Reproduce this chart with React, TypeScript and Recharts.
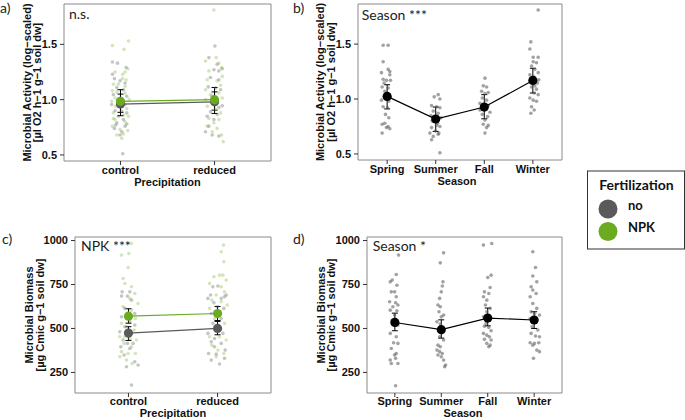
import React from 'react';
import { ScatterChart, Scatter, XAxis, YAxis, ReferenceArea, ErrorBar } from 'recharts';

// ---------- categories & ticks ----------
const precipitation = ['control', 'reduced'];
const seasons = ['Spring', 'Summer', 'Fall', 'Winter'];
const activityTicks = [0.5, 1.0, 1.5];
const biomassTicks = [250, 500, 750, 1000];

// ---------- panel a: activity by precipitation, raw points [jitter, value] ----------
const actControlNo = [[-0.085,1.34],[-0.032,1.33],[0.06,1.29],[-0.085,1.23],[-0.064,1.19],[-0.004,1.17],[0.049,1.15],[-0.039,1.11],[0.032,1.09],[-0.075,1.045],[0.067,1.03],[-0.022,0.97],[-0.093,0.955],[0.049,0.955],[-0.057,0.9],[0.014,0.894],[0.067,0.88],[-0.022,0.85],[0.032,0.82],[-0.039,0.79],[0.067,0.78],[-0.064,0.74],[0.014,0.71],[0.049,0.76],[-0.004,0.68],[0.024,0.51],[-0.05,0.77]];
const actControlNPK = [[0.085,1.53],[-0.085,1.49],[0.038,1.455],[-0.057,1.25],[0.049,1.25],[0.024,1.23],[0.078,1.28],[0.021,1.19],[0.06,1.18],[-0.075,1.14],[-0.022,1.14],[0.049,1.12],[-0.085,1.08],[-0.039,1.07],[0.049,1.06],[-0.057,1.015],[0.092,1.0],[-0.093,0.985],[-0.05,0.94],[0.067,0.92],[-0.075,0.88],[0.032,0.86],[0.085,0.85],[-0.057,0.82],[0.049,0.8],[-0.085,0.76],[-0.004,0.73],[0.078,0.72],[-0.039,0.68],[0.032,0.69],[0.014,0.65],[-0.075,0.83]];
const actReducedNo = [[0.004,1.485],[-0.06,1.38],[0.028,1.32],[-0.007,1.27],[0.046,1.26],[0.082,1.28],[-0.043,1.2],[0.046,1.18],[-0.067,1.115],[0.011,1.105],[0.064,1.09],[-0.025,1.03],[0.082,0.945],[0.046,0.93],[-0.043,0.89],[0.028,0.865],[-0.078,0.85],[-0.007,0.82],[-0.096,0.71],[-0.025,0.68],[0.046,0.67],[-0.06,0.76],[0.011,1.0]];
const actReducedNPK = [[-0.007,1.81],[-0.096,1.35],[0.018,1.38],[0.046,1.33],[0.074,1.29],[-0.06,1.26],[0.082,1.21],[-0.078,1.18],[0.028,1.17],[0.064,1.13],[-0.096,1.09],[0.046,1.06],[-0.043,1.045],[0.082,1.015],[-0.078,0.94],[0.011,0.91],[0.064,0.88],[-0.06,0.83],[0.046,0.82],[-0.007,0.79],[-0.078,0.76],[0.028,0.74],[0.074,0.68],[0.092,0.62],[-0.025,0.71],[-0.096,1.0]];
const actMeanNo = [0.96, 0.98];
const actLowNo = [0.855, 0.875];
const actHighNo = [1.05, 1.07];
const actMeanNPK = [0.985, 1.0];
const actLowNPK = [0.885, 0.905];
const actHighNPK = [1.09, 1.11];

// ---------- panel b: activity by season ----------
const actSpring = [[-0.082,1.49],[0.021,1.49],[-0.082,1.34],[-0.117,1.24],[0.021,1.27],[0.055,1.25],[-0.082,1.18],[-0.014,1.17],[0.069,1.17],[-0.103,1.11],[0.021,1.1],[-0.048,1.07],[0.055,1.02],[-0.117,0.99],[0.034,0.98],[-0.082,0.93],[0.007,0.92],[-0.034,0.86],[0.034,0.83],[-0.103,0.77],[-0.014,0.74],[0.055,0.73],[-0.048,0.78],[-0.103,0.69],[0.021,0.75],[-0.062,1.145],[0.055,1.22],[-0.014,1.01]];
const actSummer = [[0.051,1.04],[-0.031,1.02],[0.086,1.0],[-0.086,0.94],[0.017,0.93],[0.086,0.92],[-0.051,0.89],[0.051,0.87],[-0.099,0.85],[-0.017,0.84],[0.106,0.83],[-0.072,0.8],[0.038,0.78],[0.086,0.75],[-0.086,0.74],[-0.003,0.71],[0.065,0.69],[-0.051,0.66],[-0.086,0.63],[0.051,0.68],[0.086,0.51],[-0.12,0.69],[0.017,0.76]];
const actFall = [[0.014,1.19],[-0.021,1.12],[0.048,1.11],[-0.055,1.07],[0.014,1.05],[0.082,1.06],[-0.041,1.01],[0.048,0.99],[-0.089,0.96],[0.082,0.94],[-0.021,0.92],[0.117,0.88],[-0.041,0.86],[0.069,0.84],[0.014,0.81],[-0.021,0.77],[0.048,0.74],[0.082,0.76],[0.014,0.69],[-0.089,0.9]];
const actWinter = [[0.11,1.81],[-0.041,1.52],[-0.062,1.455],[0.007,1.38],[0.11,1.38],[0.007,1.34],[0.075,1.33],[-0.027,1.3],[0.041,1.27],[0.11,1.24],[-0.062,1.22],[0.027,1.2],[0.096,1.145],[-0.027,1.11],[0.075,1.09],[0.027,1.055],[0.11,1.04],[-0.062,1.01],[0.007,0.99],[0.075,0.98],[-0.027,0.93],[0.027,0.9],[-0.041,0.87],[0.041,1.12],[0.123,1.175]];
const actSeasonMean = [1.024, 0.818, 0.927, 1.169];
const actSeasonLow = [0.91, 0.705, 0.82, 1.055];
const actSeasonHigh = [1.13, 0.927, 1.04, 1.28];

// ---------- panel c: biomass by precipitation ----------
const bioControlNo = [[-0.071,708],[0.015,708],[-0.078,684],[-0.011,684],[0.034,661],[-0.041,614],[0.071,585],[-0.078,566],[0.015,538],[-0.041,510],[0.071,519],[-0.097,481],[0.034,472],[-0.06,434],[-0.011,415],[0.052,415],[-0.086,396],[0.015,386],[-0.049,349],[0.071,311],[0.108,292],[-0.022,282],[0.034,178],[-0.004,453]];
const bioControlNPK = [[0.034,983],[-0.078,917],[0.004,926],[-0.004,847],[-0.06,784],[-0.041,756],[0.034,737],[0.071,699],[0.015,671],[0.108,642],[-0.06,623],[0.034,604],[0.078,557],[-0.078,529],[-0.022,510],[0.064,491],[-0.097,453],[0.015,443],[0.09,434],[-0.049,415],[0.034,396],[-0.078,368],[-0.004,358],[0.078,358],[-0.097,339],[-0.022,320],[0.041,301],[-0.041,453]];
const bioReducedNo = [[-0.053,737],[0.004,741],[-0.078,690],[0.097,690],[0.078,680],[-0.108,671],[0.041,671],[-0.041,646],[-0.004,623],[0.071,614],[-0.071,585],[0.041,557],[-0.053,529],[0.022,500],[-0.108,472],[0.06,472],[-0.034,443],[0.041,415],[-0.071,424],[0.086,377],[-0.101,358],[-0.015,354],[-0.071,320],[0.022,298],[0.078,330],[-0.034,396]];
const bioReducedNPK = [[0.067,974],[0.041,936],[0.071,879],[0.022,803],[0.06,803],[-0.041,794],[0.097,775],[-0.09,756],[0.041,737],[0.078,708],[-0.015,690],[-0.064,661],[0.041,652],[0.108,633],[-0.09,614],[0.022,595],[-0.034,557],[0.078,529],[-0.09,453],[0.022,453],[0.097,434],[-0.064,405],[0.004,377],[0.071,358],[-0.015,339]];
const bioMeanNo = [474, 500];
const bioLowNo = [432, 464];
const bioHighNo = [510, 540];
const bioMeanNPK = [570, 585];
const bioLowNPK = [530, 545];
const bioHighNPK = [612, 625];

// ---------- panel d: biomass by season ----------
const bioSpring = [[0.08,917],[0.03,807],[-0.056,775],[-0.099,765],[0.044,746],[-0.077,708],[-0.006,708],[0.03,680],[-0.113,652],[0.016,646],[0.066,633],[-0.042,623],[-0.099,604],[0.044,601],[-0.006,576],[-0.056,547],[0.066,519],[-0.099,472],[0.03,453],[-0.027,419],[0.066,415],[-0.077,386],[0.03,358],[-0.006,349],[-0.099,320],[-0.077,301],[0.066,301],[0.016,330],[0.016,174]];
const bioSummer = [[0.05,930],[-0.022,873],[0.036,765],[0.022,741],[0,708],[-0.036,671],[-0.072,633],[-0.022,623],[-0.05,595],[0.05,576],[0,566],[-0.093,538],[-0.022,525],[0.036,500],[0.022,481],[-0.036,453],[0.05,434],[-0.072,405],[-0.022,396],[-0.093,377],[-0.036,368],[0.022,358],[-0.072,349],[0,339],[0.05,320],[0.093,292],[0.072,282]];
const bioFall = [[-0.092,974],[0.087,983],[0.073,803],[0.001,790],[0.052,733],[-0.07,708],[0.023,699],[-0.092,680],[-0.02,661],[-0.049,633],[0.052,614],[-0.02,595],[-0.092,566],[0.037,547],[-0.034,529],[-0.07,513],[0.023,506],[0.073,487],[-0.092,472],[-0.02,462],[0.037,453],[-0.07,438],[0.073,434],[-0.02,415],[0.023,396],[0.052,405]];
const bioWinter = [[-0.029,936],[0.029,847],[-0.029,798],[0.057,765],[-0.065,737],[-0.029,718],[0.043,699],[-0.086,680],[-0.029,642],[0.057,614],[-0.065,595],[0.007,585],[0.115,576],[-0.086,557],[0.043,538],[-0.043,510],[0.079,491],[-0.065,472],[0.029,457],[0.115,453],[-0.086,419],[0.007,415],[0.1,419],[-0.029,405],[0.057,377],[0.115,368],[-0.014,330]];
const bioSeasonMean = [534, 493, 559, 548];
const bioSeasonLow = [487, 445, 515, 500];
const bioSeasonHigh = [587, 549, 616, 595];

// ---------- styling ----------
const GREEN = '#6aab1f';
const GREY = '#5a5a5a';
const W = 685;
const H = 420;
const tickStyle = { fill: '#111', fontSize: 11, fontWeight: 700, fontFamily: '"Liberation Sans", Arial, sans-serif' };
const labelFont = '"Liberation Sans", Arial, sans-serif';
const noteFont = 'Lato, "Open Sans", sans-serif';

type Pt = { x: number; y: number; err?: number[] };

const cloud = (idx: number, arr: number[][]): Pt[] => arr.map(([j, v]) => ({ x: idx + j, y: v }));
const meanPts = (m: number[], lo: number[], hi: number[]): Pt[] =>
  m.map((v, i) => ({ x: i + 1, y: v, err: [v - lo[i], hi[i] - v] }));

type Cloud = { data: Pt[]; color: string; opacity: number };
type Mean = { data: Pt[]; color: string };

function Panel(props: {
  plot: [number, number, number, number];
  cats: string[];
  yDomain: [number, number];
  yTicks: number[];
  yFmt: (v: number) => string;
  yWidth: number;
  xHeight: number;
  xTickMargin: number;
  clouds: Cloud[];
  means: Mean[];
}) {
  const { plot, cats, yDomain, yTicks, yFmt, yWidth, xHeight, xTickMargin, clouds, means } = props;
  const [L, T, PW, PH] = plot;
  const margin = { left: L - yWidth, top: T, right: W - L - PW, bottom: H - T - PH - xHeight };
  const xDomain: [number, number] = [0.4, cats.length + 0.6];
  return (
    <div style={{ position: 'absolute', left: 0, top: 0 }}>
      <ScatterChart width={W} height={H} margin={margin}>
        <XAxis
          type="number"
          dataKey="x"
          domain={xDomain}
          ticks={cats.map((_, i) => i + 1)}
          tickFormatter={(v: number) => cats[Math.round(v) - 1]}
          allowDataOverflow
          axisLine={false}
          tickLine={{ stroke: '#333' }}
          tickSize={4}
          tickMargin={xTickMargin}
          height={xHeight}
          tick={tickStyle}
          interval={0}
        />
        <YAxis
          type="number"
          dataKey="y"
          domain={yDomain}
          ticks={yTicks}
          tickFormatter={yFmt}
          allowDataOverflow
          axisLine={false}
          tickLine={{ stroke: '#333' }}
          tickSize={4}
          tickMargin={3}
          width={yWidth}
          tick={tickStyle}
          interval={0}
        />
        <ReferenceArea
          x1={xDomain[0]}
          x2={xDomain[1]}
          y1={yDomain[0]}
          y2={yDomain[1]}
          fill="none"
          fillOpacity={0}
          stroke="#8a8a8a"
          strokeWidth={1}
          ifOverflow="visible"
        />
        {clouds.map((c, i) => (
          <Scatter
            key={'c' + i}
            data={c.data}
            isAnimationActive={false}
            shape={(p: any) => <circle cx={p.cx} cy={p.cy} r={1.8} fill={c.color} fillOpacity={c.opacity} />}
          />
        ))}
        {means.map((m, i) => (
          <Scatter
            key={'m' + i}
            data={m.data}
            isAnimationActive={false}
            line={{ stroke: m.color, strokeWidth: 1.2 }}
            lineType="joint"
            shape={(p: any) => <circle cx={p.cx} cy={p.cy} r={4.6} fill={m.color} />}
          >
            <ErrorBar dataKey="err" direction="y" width={3} stroke="#000" strokeWidth={1} />
          </Scatter>
        ))}
      </ScatterChart>
    </div>
  );
}

const fmt1 = (v: number) => v.toFixed(1);
const fmt0 = (v: number) => String(v);

function YTitle({ x1, x2, cy, l1, l2 }: { x1: number; x2: number; cy: number; l1: string; l2: string }) {
  const st = { fontFamily: labelFont, fontWeight: 700, fontSize: 11, fill: '#111' } as const;
  return (
    <g>
      <text transform={`translate(${x1},${cy}) rotate(-90)`} textAnchor="middle" style={st}>{l1}</text>
      <text transform={`translate(${x2},${cy}) rotate(-90)`} textAnchor="middle" style={st}>{l2}</text>
    </g>
  );
}

export default function App() {
  const xt = { fontFamily: labelFont, fontWeight: 700, fontSize: 11, fill: '#111' } as const;
  const note = { fontFamily: noteFont, fontSize: 14, fill: '#222' } as const;
  return (
    <div style={{ position: 'absolute', left: 0, top: 0, width: W, height: H, background: '#fff', overflow: 'hidden' }}>
      <Panel
        plot={[64, 4, 207, 157]}
        cats={precipitation}
        yDomain={[0.445, 1.865]}
        yTicks={activityTicks}
        yFmt={fmt1}
        yWidth={60}
        xHeight={30}
        xTickMargin={1}
        clouds={[
          { data: cloud(1, actControlNo), color: GREY, opacity: 0.35 },
          { data: cloud(2, actReducedNo), color: GREY, opacity: 0.35 },
          { data: cloud(1, actControlNPK), color: GREEN, opacity: 0.3 },
          { data: cloud(2, actReducedNPK), color: GREEN, opacity: 0.3 },
        ]}
        means={[
          { data: meanPts(actMeanNo, actLowNo, actHighNo), color: GREY },
          { data: meanPts(actMeanNPK, actLowNPK, actHighNPK), color: GREEN },
        ]}
      />
      <Panel
        plot={[358, 4, 204, 156]}
        cats={seasons}
        yDomain={[0.445, 1.865]}
        yTicks={activityTicks}
        yFmt={fmt1}
        yWidth={60}
        xHeight={30}
        xTickMargin={1}
        clouds={[
          { data: cloud(1, actSpring), color: '#555', opacity: 0.55 },
          { data: cloud(2, actSummer), color: '#555', opacity: 0.55 },
          { data: cloud(3, actFall), color: '#555', opacity: 0.55 },
          { data: cloud(4, actWinter), color: '#555', opacity: 0.55 },
        ]}
        means={[{ data: meanPts(actSeasonMean, actSeasonLow, actSeasonHigh), color: '#000' }]}
      />
      <Panel
        plot={[75, 237, 196, 156]}
        cats={precipitation}
        yDomain={[133, 1020]}
        yTicks={biomassTicks}
        yFmt={fmt0}
        yWidth={60}
        xHeight={27}
        xTickMargin={0}
        clouds={[
          { data: cloud(1, bioControlNo), color: GREY, opacity: 0.35 },
          { data: cloud(2, bioReducedNo), color: GREY, opacity: 0.35 },
          { data: cloud(1, bioControlNPK), color: GREEN, opacity: 0.3 },
          { data: cloud(2, bioReducedNPK), color: GREEN, opacity: 0.3 },
        ]}
        means={[
          { data: meanPts(bioMeanNo, bioLowNo, bioHighNo), color: GREY },
          { data: meanPts(bioMeanNPK, bioLowNPK, bioHighNPK), color: GREEN },
        ]}
      />
      <Panel
        plot={[367, 237, 195, 156]}
        cats={seasons}
        yDomain={[133, 1020]}
        yTicks={biomassTicks}
        yFmt={fmt0}
        yWidth={60}
        xHeight={27}
        xTickMargin={0}
        clouds={[
          { data: cloud(1, bioSpring), color: '#555', opacity: 0.55 },
          { data: cloud(2, bioSummer), color: '#555', opacity: 0.55 },
          { data: cloud(3, bioFall), color: '#555', opacity: 0.55 },
          { data: cloud(4, bioWinter), color: '#555', opacity: 0.55 },
        ]}
        means={[{ data: meanPts(bioSeasonMean, bioSeasonLow, bioSeasonHigh), color: '#000' }]}
      />
      <svg width={W} height={H} style={{ position: 'absolute', left: 0, top: 0 }}>
        {/* axis titles */}
        <YTitle x1={30.5} x2={41} cy={82.5} l1="Microbial Activity (log−scaled)" l2="[µl O2 h−1 g−1 soil dw]" />
        <YTitle x1={324} x2={334.5} cy={82} l1="Microbial Activity (log−scaled)" l2="[µl O2 h−1 g−1 soil dw]" />
        <YTitle x1={32.5} x2={43.5} cy={315} l1="Microbial Biomass" l2="[µg Cmic g−1 soil dw]" />
        <YTitle x1={324.5} x2={335} cy={315} l1="Microbial Biomass" l2="[µg Cmic g−1 soil dw]" />
        <text x={167.5} y={186} textAnchor="middle" style={xt}>Precipitation</text>
        <text x={457} y={185} textAnchor="middle" style={xt}>Season</text>
        <text x={173} y={416.5} textAnchor="middle" style={xt}>Precipitation</text>
        <text x={463} y={416.5} textAnchor="middle" style={xt}>Season</text>
        {/* annotations */}
        <text x={69} y={18.5} style={note}>n.s.</text>
        <text x={361.7} y={19.5} style={note}>Season ***</text>
        <text x={81} y={250.5} style={note}>NPK ***</text>
        <text x={372.7} y={251} style={note}>Season *</text>
        {/* panel letters */}
        <text x={0} y={12.5} style={note}>a)</text>
        <text x={293} y={12.5} style={note}>b)</text>
        <text x={2} y={244} style={note}>c)</text>
        <text x={293} y={244} style={note}>d)</text>
        {/* legend */}
        <rect x={587.5} y={171} width={97} height={78} fill="#fff" stroke="#333" strokeWidth={1} />
        <text x={599.3} y={190} style={{ fontFamily: noteFont, fontWeight: 700, fontSize: 14, fill: '#111' }}>Fertilization</text>
        <circle cx={608} cy={209} r={9.5} fill={GREY} />
        <circle cx={608} cy={231.5} r={9.5} fill={GREEN} />
        <text x={628} y={210} style={{ fontFamily: noteFont, fontWeight: 700, fontSize: 13, fill: '#111' }}>no</text>
        <text x={628} y={232} style={{ fontFamily: noteFont, fontWeight: 700, fontSize: 13, fill: '#111' }}>NPK</text>
      </svg>
    </div>
  );
}
